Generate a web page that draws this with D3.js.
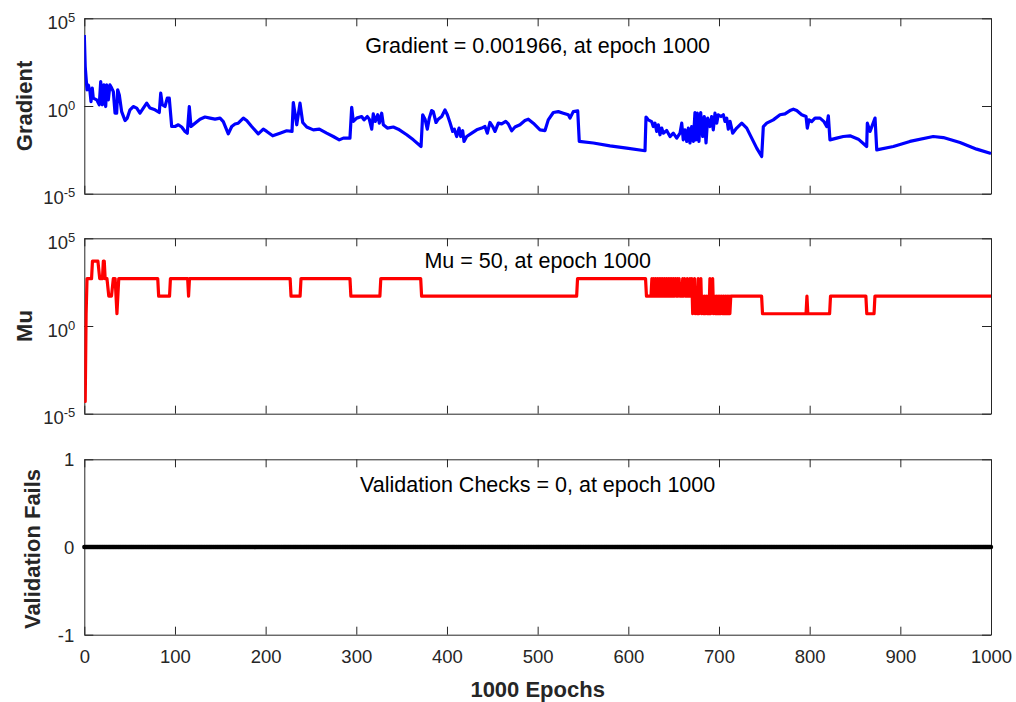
<!DOCTYPE html>
<html>
<head>
<meta charset="utf-8">
<script src="https://cdn.jsdelivr.net/npm/d3@7"></script>
<style>
  html, body { margin: 0; padding: 0; background: #ffffff; }
  svg { display: block; }
  text { font-family: "Liberation Sans", Arial, Helvetica, sans-serif; }
</style>
</head>
<body>
<svg id="chart" width="1016" height="702"></svg>
<script>
// ---------------- data ----------------
const xTicks = [0, 100, 200, 300, 400, 500, 600, 700, 800, 900, 1000];
const logTicks = [1e-5, 1, 1e5];
const logTickExp = ["-5", "0", "5"];
const valTicks = [-1, 0, 1];

const panelTexts = ["Gradient = 0.001966, at epoch 1000", "Mu = 50, at epoch 1000", "Validation Checks = 0, at epoch 1000"];
const panelYLabels = ["Gradient", "Mu", "Validation Fails"];
const xLabel = "1000 Epochs";

// gradient: epoch and log10(gradient)
const gradEpochs = [0,1,3,4.4,6.3,7.4,8.8,9.9,13.7,16.5,
  18.1,19.9,21.7,23.6,24.7,26.5,28.3,30.2,32,33.9,
  35.7,36.8,38.6,41.2,44.9,47.4,50.4,54,57.8,61.4,
  65.1,68.8,72.5,78,82.7,84.3,86,89,91.5,93.7,
  96.4,100,103.7,107.4,111.1,113.6,115.8,117.7,122.1,127.6,
  133.1,138.7,144.2,149.7,153.3,158.8,162.6,166.2,169.8,175.4,
  179.1,184.6,191.9,197.4,201.2,207.8,215.8,223.2,229.1,230.5,
  234.3,237.9,240.9,245.3,252.6,259.2,267.3,274.6,281.2,285.7,
  293,294.9,296.7,300.4,305.9,308.5,312.1,314.3,317,318.7,
  320.9,323.6,325.4,328,329.8,334.2,340.8,346.3,355.6,362.9,
  371.4,373.2,375.8,378.3,380.5,383.1,384.9,387.9,390.4,394.2,
  397.8,400.4,403.3,406.3,408.1,410.7,413.3,415.1,417.3,418.8,
  421.7,427.3,432.8,438.3,441.9,444.5,447.4,450.4,453,456.6,
  460.3,464.8,467.6,471.4,475,480.5,486,489.7,495.2,502.6,
  508.1,511.7,517.3,522.8,528.3,533.8,535.7,539.3,544.2,545.9,
  561.4,579.8,598.2,618.4,619.5,622,625.8,627.5,629.4,631.3,
  633.1,634.9,636.8,638.6,642.3,646,649.6,653.4,657,658.9,
  660.6,662.5,664.4,666.2,668,669.9,671.7,673.5,674.6,676.1,
  677.9,679.8,682,683.8,685.7,687.5,690.1,691.9,693.7,695.6,
  697.5,699.2,702.2,704.8,706.6,708.5,710.3,712.2,715.1,719.5,
  725.1,730.6,736.1,741.6,747.1,748.9,752.6,759.9,767.3,772.8,
  778.3,782,785.7,791.2,796,797.4,799.3,802.2,805.9,811.4,
  815.8,818.8,820.6,822.4,829.8,837.1,844.5,853.7,862.9,863.6,
  866.6,872.1,874,892.3,910.6,936.3,947.4,965.8,984.2,1000];
const gradLog10 = [4.05,2.25,0.92,1.2,0.82,0.25,1.02,0.45,0.35,0.07,
  1.39,0.07,1.2,-0.03,1.2,0.35,1.2,1.02,0.82,-0.41,
  -0.41,0.92,0.63,-0.32,-0.83,-0.69,-0.22,-0.03,-0.12,-0.41,
  -0.12,0.16,-0.12,-0.22,-0.37,0.73,0.07,-0.03,0.45,0.45,
  -1.17,-1.17,-1.07,-1.2,-1.45,-1.55,-0.03,-1.17,-0.98,-0.75,
  -0.63,-0.69,-0.75,-0.69,-0.89,-1.59,-1.17,-1.03,-0.98,-0.69,
  -0.83,-1.17,-1.59,-1.32,-1.45,-1.7,-1.55,-1.41,-1.45,0.2,
  -1.07,0.16,-0.94,-1.2,-1.36,-1.32,-1.55,-1.74,-1.93,-1.83,
  -1.83,-0.07,-0.88,-0.69,-0.6,-0.79,-0.6,-0.75,-1.32,-0.45,
  -0.88,-0.5,-0.98,-0.41,-1.07,-1.26,-1.2,-1.32,-1.64,-1.93,
  -2.31,-0.5,-0.75,-1.32,-0.69,-0.26,-0.32,-0.94,-0.75,-0.6,
  -0.22,-0.5,-0.94,-1.45,-1.32,-1.74,-1.26,-1.74,-1.41,-2.02,
  -1.74,-1.55,-1.36,-1.26,-1.17,-1.55,-0.94,-1.17,-1.45,-0.98,
  -1.02,-0.88,-1.02,-1.41,-1.2,-1.07,-0.83,-0.75,-0.98,-1.36,
  -1.4,-0.79,-0.37,-0.32,-0.41,-0.5,-0.69,-0.32,-0.28,-2.02,
  -2.11,-2.27,-2.4,-2.55,-0.63,-0.79,-0.89,-1.17,-0.98,-1.45,
  -1.07,-1.64,-1.26,-1.55,-1.4,-1.74,-1.55,-1.83,-1.55,-0.98,
  -1.93,-1.36,-2.02,-1.26,-2.11,-1.17,-2.02,-0.37,-1.93,-0.41,
  -2.02,-0.37,-1.74,-0.6,-2.11,-0.69,-1.17,-0.6,-1.36,-0.41,
  -0.98,-0.5,-0.6,-0.5,-0.88,-0.69,-1.32,-0.88,-1.55,-1.26,
  -0.98,-1.26,-1.83,-2.4,-2.88,-1.17,-0.98,-0.79,-0.5,-0.45,
  -0.26,-0.18,-0.26,-0.5,-0.6,-1.26,-0.79,-0.89,-0.69,-0.69,
  -0.89,-1.17,-0.56,-1.93,-1.83,-1.74,-1.7,-1.89,-2.31,-0.98,
  -1.45,-0.69,-2.5,-2.31,-2.02,-1.74,-1.8,-2.08,-2.46,-2.706];

// mu: epoch and value at each vertex of the line
const muEpochs = [0,1,2,3,8,9,15,17,20,21,22,23,25,27,30,32,34,36,38,81,82,94,95,114,115,116,
  227,228,238,239,293,294,326,327,371,372,543,544,619,620,625,
  626,627,628,629,630,631,632,633,634,635,636,637,638,639,640,641,
  642,643,644,645,646,647,648,649,650,651,652,653,654,655,656,657,
  658,659,660,661,662,663,664,665,666,667,668,
  669,670,671,672,673,674,675,676,677,678,679,680,681,682,683,684,685,686,687,688,689,
  690,691,692,693,694,695,696,697,698,699,700,701,702,703,704,705,706,707,708,709,710,711,712,713,
  747,748,796,797,798,822,823,862,863,871,872,1000];
const muValues = [0.005,5e-5,5,500,500,5000,5000,500,500,5000,5000,500,500,50,50,500,500,5,500,500,50,50,500,500,50,500,
  500,50,50,500,500,50,50,500,500,50,50,500,500,50,50,
  500,50,500,50,500,50,500,50,500,50,500,50,500,50,500,50,
  500,50,500,50,500,50,500,50,500,50,500,50,500,50,500,50,
  50,50,500,50,500,50,50,500,50,50,500,
  50,500,5,50,500,5,50,5,500,5,50,500,5,50,5,50,5,50,5,50,5,
  500,5,50,500,5,50,5,50,5,50,5,50,5,50,5,50,5,50,5,50,5,50,5,50,
  50,5,5,50,5,5,50,50,5,5,50,50];

// validation fails: 0 at every epoch 0..1000
const valEpochs = d3.range(0, 1001);
const valFails = valEpochs.map(() => 0);

// ---------------- layout ----------------
const svg = d3.select("#chart");
const axisColor = "#262626";
const left = 84.3, right = 991;
const panelTops = [18.3, 238.3, 459.3];
const panelH = 175.4;

const x = d3.scaleLinear().domain([0, 1000]).range([left, right]);

function styleAxis(g) {
  g.selectAll("path.domain").attr("stroke", axisColor).attr("stroke-width", 1);
  g.selectAll(".tick line").attr("stroke", axisColor).attr("stroke-width", 1);
  g.selectAll(".tick text").attr("fill", axisColor).attr("font-size", 18.5)
    .attr("font-family", '"Liberation Sans", Arial, sans-serif');
}

function drawPanel(i, y, yTickVals, isLog, showXLabels) {
  const top = panelTops[i], bottom = top + panelH;
  const g = svg.append("g");
  const gb = g.append("g").attr("transform", `translate(0,${bottom})`)
    .call(d3.axisBottom(x).tickValues(xTicks).tickSize(-8).tickSizeOuter(0).tickPadding(15)
      .tickFormat(showXLabels ? d => String(d) : () => ""));
  styleAxis(gb);
  const gt = g.append("g").attr("transform", `translate(0,${top})`)
    .call(d3.axisTop(x).tickValues(xTicks).tickSize(-8).tickSizeOuter(0).tickFormat(() => ""));
  styleAxis(gt);
  const gl = g.append("g").attr("transform", `translate(${left},0)`)
    .call(d3.axisLeft(y).tickValues(yTickVals).tickSize(-9).tickSizeOuter(0).tickPadding(isLog ? 9 : 10)
      .tickFormat(isLog ? () => "" : d => String(d)));
  styleAxis(gl);
  if (isLog) {
    gl.selectAll(".tick text").each(function (d, j) {
      const t = d3.select(this).attr("dy", null).attr("y", 10);
      t.append("tspan").text("10");
      t.append("tspan").attr("font-size", 13).attr("dy", -7).text(logTickExp[j]);
    });
  } else {
    gl.selectAll(".tick text").attr("dy", null).attr("y", 6.5);
  }
  const gr = g.append("g").attr("transform", `translate(${right},0)`)
    .call(d3.axisRight(y).tickValues(yTickVals).tickSize(-9).tickSizeOuter(0).tickFormat(() => ""));
  styleAxis(gr);
  svg.append("clipPath").attr("id", "clip" + i).append("rect")
    .attr("x", left).attr("y", top - 2).attr("width", right - left + 2).attr("height", panelH + 4);
  return g;
}

// Panel 1 : Gradient
const y1 = d3.scaleLog().domain([1e-5, 1e5]).range([panelTops[0] + panelH, panelTops[0]]);
drawPanel(0, y1, logTicks, true, false);
const gradData = gradEpochs.map((e, k) => [e, Math.pow(10, gradLog10[k])]);
svg.append("path").datum(gradData)
  .attr("clip-path", "url(#clip0)")
  .attr("fill", "none").attr("stroke", "#0000ff").attr("stroke-width", 3.2)
  .attr("stroke-linejoin", "round")
  .attr("d", d3.line().x(d => x(d[0])).y(d => y1(d[1])));

// Panel 2 : Mu
const y2 = d3.scaleLog().domain([1e-5, 1e5]).range([panelTops[1] + panelH, panelTops[1]]);
drawPanel(1, y2, logTicks, true, false);
const muData = muEpochs.map((e, k) => [e, muValues[k]]);
svg.append("path").datum(muData)
  .attr("clip-path", "url(#clip1)")
  .attr("fill", "none").attr("stroke", "#ff0000").attr("stroke-width", 3.2)
  .attr("stroke-linejoin", "round")
  .attr("d", d3.line().x(d => x(d[0])).y(d => y2(d[1])));

// Panel 3 : Validation
const y3 = d3.scaleLinear().domain([-1, 1]).range([panelTops[2] + panelH, panelTops[2]]);
drawPanel(2, y3, valTicks, false, true);
const valData = valEpochs.map((e, k) => [e, valFails[k]]);
svg.append("path").datum(valData)
  .attr("fill", "none").attr("stroke", "#000000").attr("stroke-width", 2.5)
  .attr("d", d3.line().x(d => x(d[0])).y(d => y3(d[1])));
svg.append("g").selectAll("circle").data(valData).join("circle")
  .attr("cx", d => x(d[0])).attr("cy", d => y3(d[1])).attr("r", 2.2)
  .attr("fill", "#000000");

// panel texts
const textX = (left + right) / 2;
const textBaselines = [52.5, 268, 492];
panelTexts.forEach((t, i) => {
  svg.append("text").attr("x", textX).attr("y", textBaselines[i])
    .attr("text-anchor", "middle").attr("font-size", 21.5).attr("fill", "#000000").text(t);
});

// y labels
const yLabelPos = [[32, 106], [32, 326], [40, 549]];
panelYLabels.forEach((t, i) => {
  svg.append("text")
    .attr("transform", `translate(${yLabelPos[i][0]},${yLabelPos[i][1]}) rotate(-90)`)
    .attr("text-anchor", "middle").attr("font-size", 22).attr("font-weight", "bold")
    .attr("fill", axisColor).text(t);
});

// x label
svg.append("text").attr("x", textX).attr("y", 697).attr("text-anchor", "middle")
  .attr("font-size", 22).attr("font-weight", "bold").attr("fill", axisColor).text(xLabel);
</script>
</body>
</html>
